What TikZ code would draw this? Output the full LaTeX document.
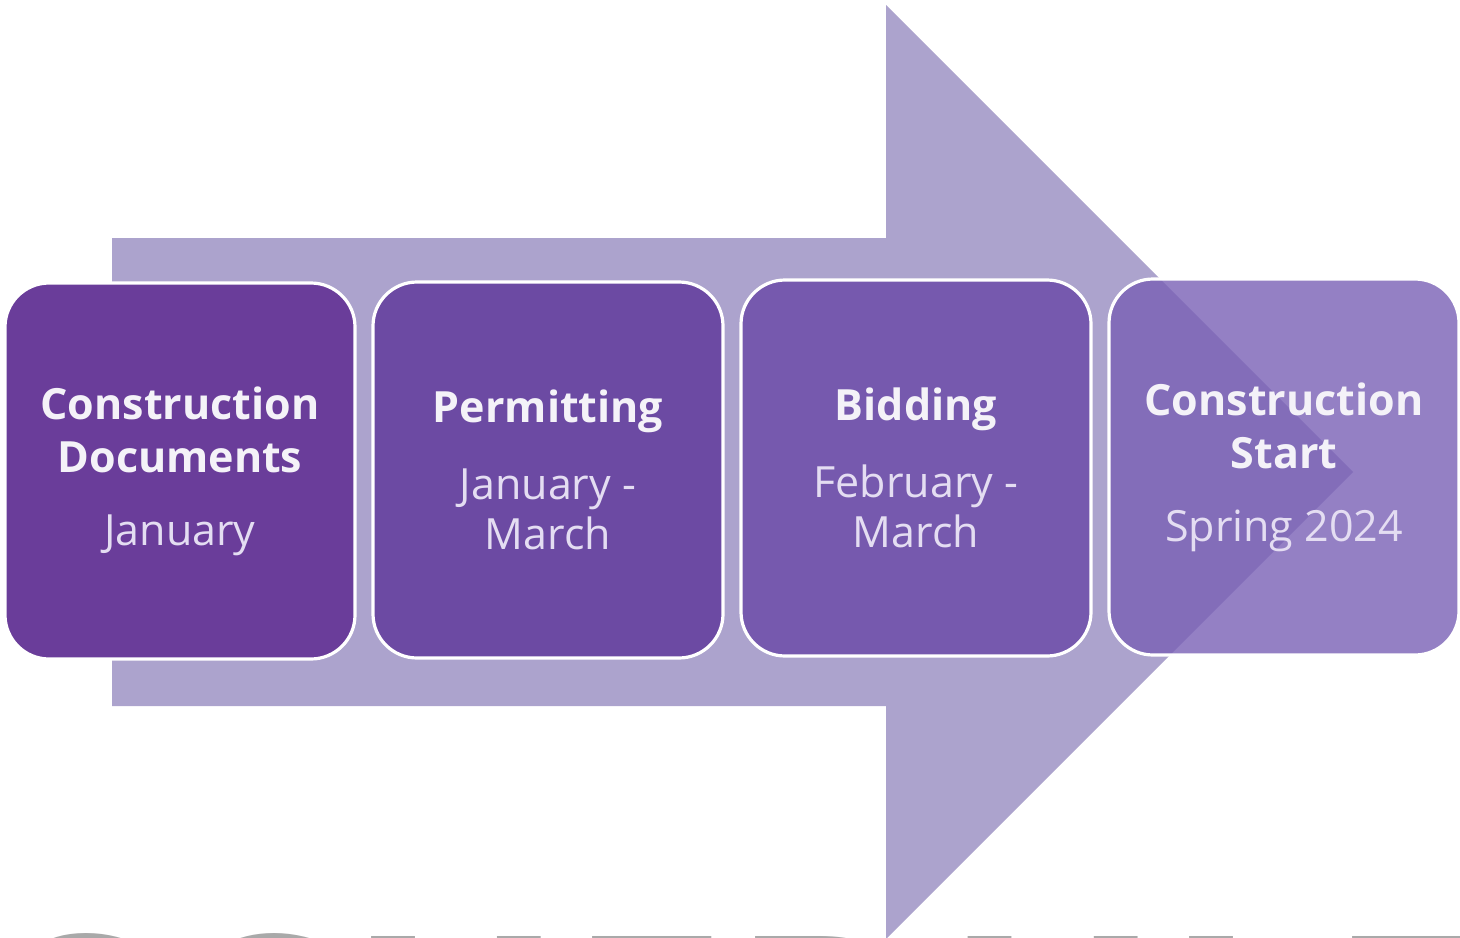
\documentclass[tikz,border=0pt]{standalone}
\usepackage{xcolor}
\usepackage{fontspec}
\setmainfont{Open Sans}
\usepackage{tikz}
\usetikzlibrary{positioning}
\definecolor{arrowlav}{HTML}{ACA3CD}
\definecolor{phaseone}{HTML}{6A3D9A}
\definecolor{phasetwo}{HTML}{6C4AA3}
\definecolor{phasethree}{HTML}{7659AE}
\definecolor{phasefour}{HTML}{7960B5}
\definecolor{titletext}{HTML}{F4F2F8}
\definecolor{datetext}{HTML}{E4DDF2}
\definecolor{schedgrey}{HTML}{A9A9A9}
\newcommand{\phasetitle}[1]{{\bfseries\color{titletext}#1}}
\newcommand{\phasedate}[1]{{\color{datetext}\fontsize{21.5}{26.5}\selectfont#1}}
\tikzset{
phase/.style = { rectangle, draw = white, line width = 1.6pt, rounded corners = 22pt, minimum width = 175pt, minimum height = 188pt, align = center, inner sep = 0pt, font = \fontsize{21.5}{26.5}\selectfont },
big arrow/.style = { fill = arrowlav, draw = none },
schedule/.style = { anchor = north, inner sep = 0pt, text = schedgrey, font = \bfseries\fontsize{145}{145}\selectfont },
}

\begin{document}
\begin{tikzpicture}[x=0.5pt, y=-0.5pt]
      \path[use as bounding box, clip] (0,0) rectangle (1460,937);
      % arrow behind the phases
      \path[big arrow] (112,238) -- (886,238) -- (886,5) -- (1353,472) -- (886,939) -- (886,706) -- (112,706) -- cycle;
      % grey word, cut by the lower edge
      \node[schedule] (sched) at (745,933) {SCHEDULE};
      \begin{scope}[every node/.style={phase}]
        \node[fill = phaseone] (cdocs) at (180,471) {\phasetitle{Construction}\\\phasetitle{Documents}\\[10pt]\phasedate{January}};
        \node[fill = phasetwo] (permit) at (548,470) {\phasetitle{Permitting}\\[12pt]\phasedate{January -}\\[-1.5pt]\phasedate{March}};
        \node[fill = phasethree] (bidding) at (916,468) {\phasetitle{Bidding}\\[12pt]\phasedate{February -}\\[-1.5pt]\phasedate{March}};
        \node[fill = phasefour, fill opacity = 0.8, text opacity = 1, draw opacity = 1] (start) at (1284,467) {\phasetitle{Construction}\\\phasetitle{Start}\\[10pt]\phasedate{Spring 2024}};
      \end{scope}
\end{tikzpicture}
\end{document}
